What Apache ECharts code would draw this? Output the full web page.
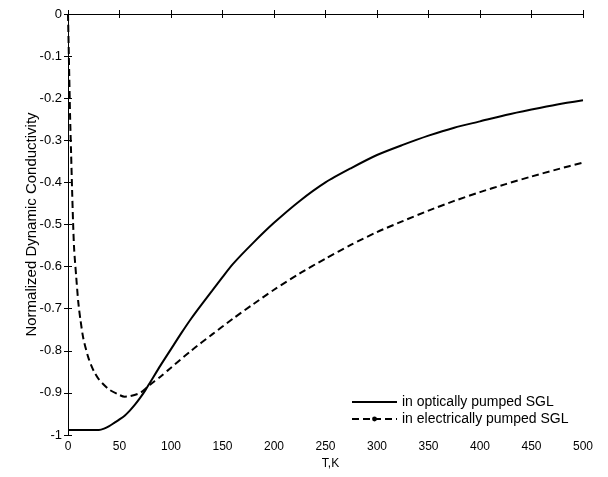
<!DOCTYPE html>
<html>
<head>
<meta charset="utf-8">
<script src="https://cdn.jsdelivr.net/npm/echarts@6/dist/echarts.min.js"></script>
<style>
  html, body { margin: 0; padding: 0; background: #fff; }
  #chart { width: 608px; height: 477px; }
</style>
</head>
<body>
<div id="chart"></div>
<script>
// values
const seriesNames = ['in optically pumped SGL', 'in electrically pumped SGL'];

const tempOptical = [0, 10, 20, 30, 35, 40, 45, 50, 55, 60, 65, 70, 75, 80, 90, 100, 110, 120, 130, 140, 150, 160, 180, 200, 225, 250, 275, 300, 325, 350, 375, 400, 425, 450, 475, 500];
const optical = [-0.988, -0.988, -0.988, -0.988, -0.985, -0.979, -0.971, -0.963, -0.954, -0.942, -0.928, -0.912, -0.894, -0.874, -0.834, -0.796, -0.758, -0.722, -0.689, -0.657, -0.625, -0.594, -0.543, -0.496, -0.444, -0.400, -0.366, -0.335, -0.311, -0.289, -0.270, -0.255, -0.240, -0.227, -0.215, -0.205];

const tempElectrical = [0, 1, 2, 3, 4, 5, 6, 8, 10, 12, 15, 20, 25, 30, 40, 50, 55, 60, 70, 80, 90, 100, 120, 140, 160, 180, 200, 225, 250, 275, 300, 325, 350, 375, 400, 425, 450, 475, 500];
const electrical = [0, -0.12, -0.24, -0.33, -0.42, -0.50, -0.56, -0.625, -0.685, -0.725, -0.772, -0.818, -0.848, -0.868, -0.892, -0.905, -0.909, -0.908, -0.900, -0.880, -0.861, -0.840, -0.799, -0.761, -0.724, -0.689, -0.655, -0.616, -0.581, -0.548, -0.518, -0.492, -0.467, -0.444, -0.423, -0.404, -0.386, -0.369, -0.353];

const xTicks = { min: 0, max: 500, interval: 50 };
const yTicks = { min: -1, max: 0, interval: 0.1 };

const pairs = (xs, ys) => xs.map((x, i) => [x, ys[i]]);

const font = 'Liberation Sans, Arial, sans-serif';
const chart = echarts.init(document.getElementById('chart'), null, { renderer: 'canvas' });

const tickIn = { show: true, inside: true, length: 4, lineStyle: { color: '#000', width: 1 } };
const lineBlack = { show: true, lineStyle: { color: '#000', width: 1 } };

chart.setOption({
  animation: false,
  backgroundColor: '#fff',
  grid: { left: 68, right: 25, top: 14, bottom: 42 },
  legend: {
    orient: 'vertical',
    left: 351,
    top: 395,
    padding: 0,
    itemWidth: 45,
    itemHeight: 6,
    itemGap: 3,
    textStyle: { fontFamily: font, fontSize: 14, color: '#000' },
    data: [
      { name: seriesNames[0], itemStyle: { opacity: 0 } },
      { name: seriesNames[1] }
    ]
  },
  xAxis: [
    {
      type: 'value', min: xTicks.min, max: xTicks.max, interval: xTicks.interval,
      name: 'T,K', nameLocation: 'middle', nameGap: 23,
      nameTextStyle: { fontFamily: font, fontSize: 12, color: '#000', padding: [0, 0, 0, 10] },
      axisLine: lineBlack, axisTick: tickIn, splitLine: { show: false },
      axisLabel: { fontFamily: font, fontSize: 12, color: '#000', margin: 6 }
    },
    {
      type: 'value', position: 'top', min: xTicks.min, max: xTicks.max, interval: xTicks.interval,
      axisLine: lineBlack, axisTick: tickIn, splitLine: { show: false }, axisLabel: { show: false }
    }
  ],
  yAxis: [
    {
      type: 'value', min: yTicks.min, max: yTicks.max, interval: yTicks.interval,
      name: 'Normalized Dynamic Conductivity', nameLocation: 'middle', nameGap: 29,
      nameMoveOverlap: false,
      nameTextStyle: { fontFamily: font, fontSize: 15, color: '#000' },
      axisLine: lineBlack, axisTick: tickIn, splitLine: { show: false },
      axisLabel: { fontFamily: font, fontSize: 13, color: '#000', margin: 6 }
    },
    {
      type: 'value', position: 'right', min: yTicks.min, max: yTicks.max, interval: yTicks.interval,
      axisLine: lineBlack, axisTick: tickIn, splitLine: { show: false }, axisLabel: { show: false }
    }
  ],
  series: [
    {
      name: seriesNames[0],
      type: 'line',
      smooth: 0.25,
      symbol: 'none',
      lineStyle: { color: '#000', width: 2 },
      itemStyle: { color: '#000' },
      data: pairs(tempOptical, optical)
    },
    {
      name: seriesNames[1],
      type: 'line',
      smooth: 0.25,
      symbol: 'circle',
      symbolSize: 4,
      showSymbol: false,
      lineStyle: { color: '#000', width: 2, type: [7, 4] },
      itemStyle: { color: '#000' },
      data: pairs(tempElectrical, electrical)
    }
  ]
});
</script>
</body>
</html>
